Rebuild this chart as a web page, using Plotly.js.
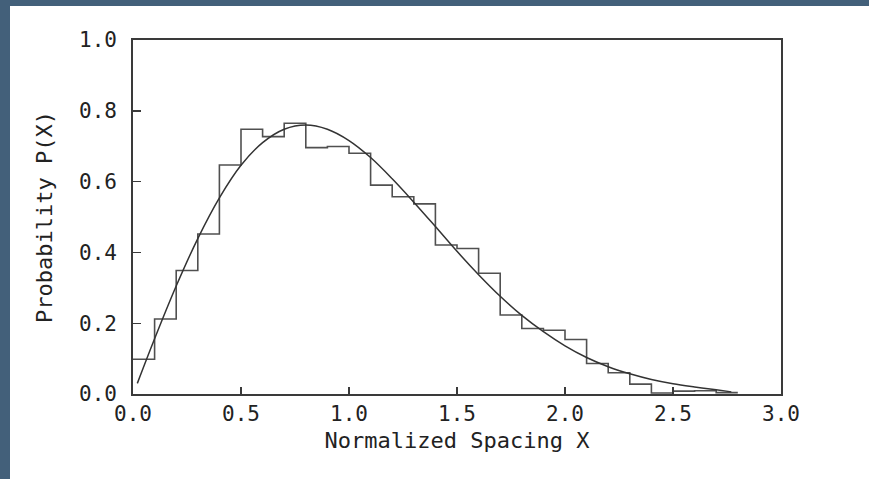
<!DOCTYPE html>
<html>
<head>
<meta charset="utf-8">
<script src="https://cdn.plot.ly/plotly-3.0.1.min.js"></script>
<style>
  html, body { margin: 0; padding: 0; width: 869px; height: 479px; overflow: hidden; background: #43607a; }
  #chart { position: absolute; left: 10px; top: 6px; width: 859px; height: 473px; background: #ffffff; }
</style>
</head>
<body>
<div id="chart"></div>
<script>
// Histogram bin left edges (width 0.1) and heights
const binEdges = [0.0, 0.1, 0.2, 0.3, 0.4, 0.5, 0.6, 0.7, 0.8, 0.9,
                  1.0, 1.1, 1.2, 1.3, 1.4, 1.5, 1.6, 1.7, 1.8, 1.9,
                  2.0, 2.1, 2.2, 2.3, 2.4, 2.5, 2.6, 2.7, 2.8];
const binHeights = [0.098, 0.212, 0.349, 0.452, 0.647, 0.748, 0.727, 0.765, 0.696, 0.699,
                    0.680, 0.590, 0.557, 0.537, 0.421, 0.411, 0.341, 0.223, 0.185, 0.180,
                    0.154, 0.086, 0.060, 0.028, 0.003, 0.008, 0.009, 0.004];

// Smooth curve sample points
const curveX = [0.02, 0.1, 0.2, 0.3, 0.4, 0.5, 0.6, 0.7, 0.8, 0.9,
                1.0, 1.1, 1.2, 1.3, 1.4, 1.5, 1.6, 1.7, 1.8, 1.9,
                2.0, 2.1, 2.2, 2.3, 2.4, 2.5, 2.6, 2.7, 2.77];
const curveY = [0.03, 0.156, 0.305, 0.439, 0.554, 0.646, 0.710, 0.748, 0.760, 0.748,
                0.716, 0.668, 0.608, 0.542, 0.473, 0.403, 0.337, 0.276, 0.222, 0.176,
                0.136, 0.103, 0.077, 0.057, 0.041, 0.029, 0.020, 0.012, 0.006];

const xTicks = [0.0, 0.5, 1.0, 1.5, 2.0, 2.5, 3.0];
const yTicks = [0.0, 0.2, 0.4, 0.6, 0.8, 1.0];
const xTitle = 'Normalized Spacing X';
const yTitle = 'Probability P(X)';

const stepY = binHeights.concat([binHeights[binHeights.length - 1]]);

const ink = '#3a3a3a';
const txt = '#222222';
const fontFam = '"DejaVu Sans Mono", "Liberation Mono", monospace';

const traces = [
  {
    x: binEdges, y: stepY, type: 'scatter', mode: 'lines',
    line: { shape: 'hv', color: '#505050', width: 1.6 },
    hoverinfo: 'skip', showlegend: false
  },
  {
    x: curveX, y: curveY, type: 'scatter', mode: 'lines',
    line: { shape: 'spline', smoothing: 1, color: '#333333', width: 1.5 },
    hoverinfo: 'skip', showlegend: false
  }
];

const layout = {
  width: 859, height: 473,
  margin: { l: 123, r: 88, t: 34, b: 85 },
  paper_bgcolor: '#ffffff', plot_bgcolor: '#ffffff',
  showlegend: false,
  font: { family: fontFam, color: txt, size: 21 },
  xaxis: {
    range: [0, 3], tickvals: xTicks, tickformat: '.1f',
    ticks: 'inside', ticklen: 7, tickwidth: 1.4, tickcolor: ink,
    showline: true, linecolor: ink, linewidth: 1.8, mirror: true,
    showgrid: false, zeroline: false,
    ticklabelstandoff: 0,
    tickfont: { family: fontFam, size: 21, color: txt },
    title: { text: xTitle, font: { family: fontFam, size: 22, color: txt }, standoff: 7 }
  },
  yaxis: {
    range: [0, 1], tickvals: yTicks, tickformat: '.1f',
    ticks: 'inside', ticklen: 8, tickwidth: 1.4, tickcolor: ink,
    showline: true, linecolor: ink, linewidth: 1.8, mirror: true,
    showgrid: false, zeroline: false,
    ticklabelstandoff: 10,
    tickfont: { family: fontFam, size: 21, color: txt },
    title: { text: yTitle, font: { family: fontFam, size: 22, color: txt }, standoff: 20 }
  }
};

Plotly.newPlot('chart', traces, layout, { staticPlot: true, displayModeBar: false });
</script>
</body>
</html>
